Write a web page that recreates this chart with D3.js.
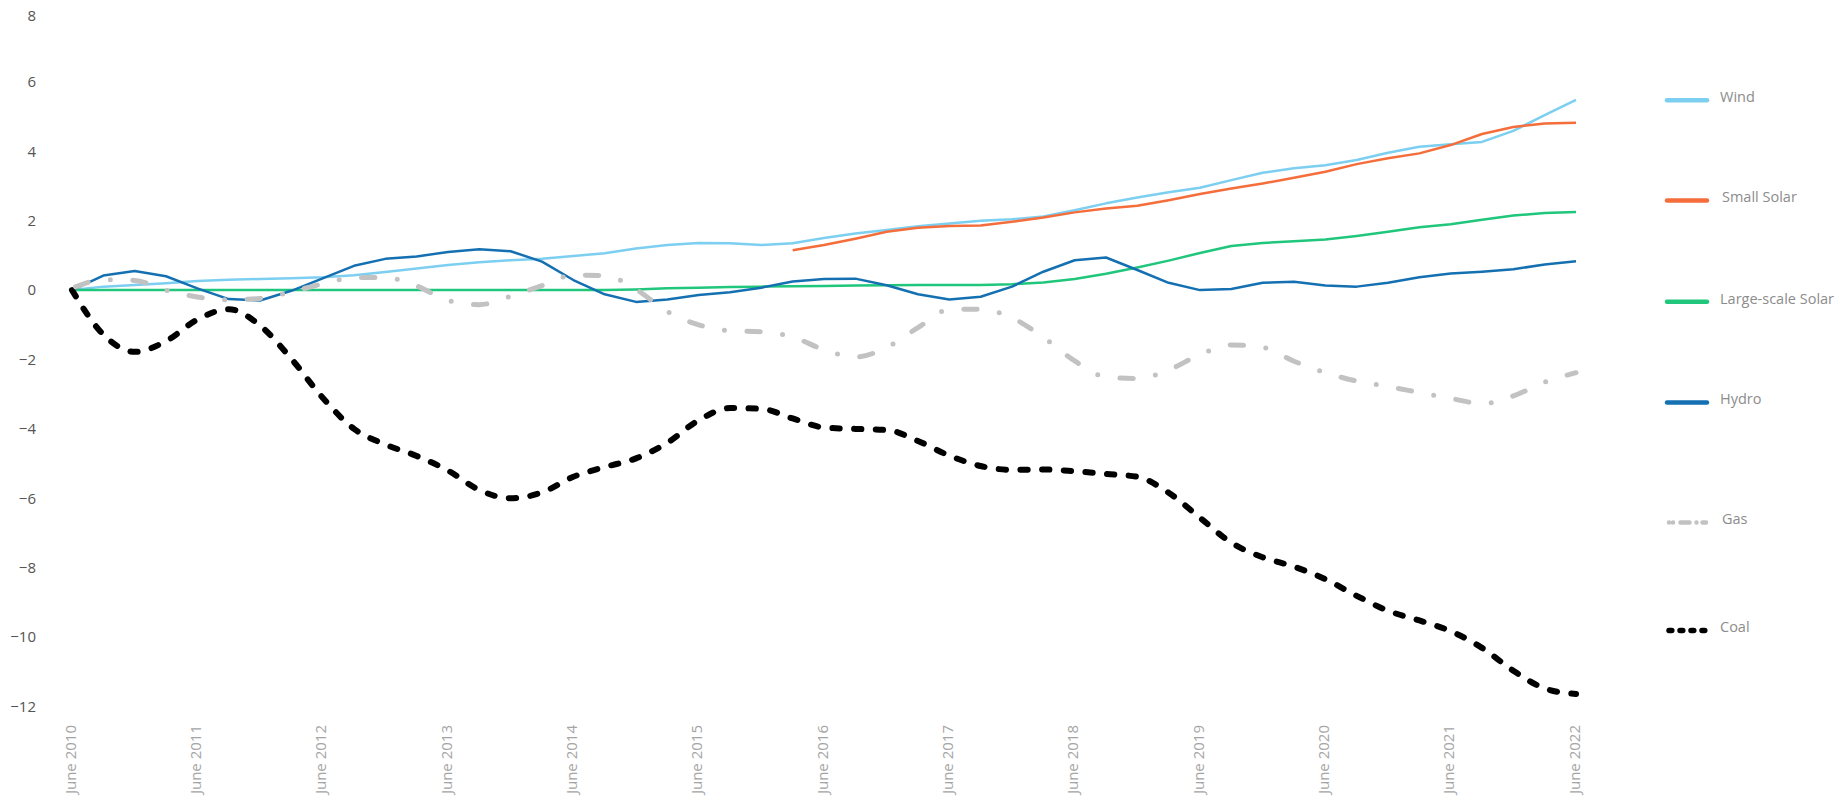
<!DOCTYPE html>
<html>
<head>
<meta charset="utf-8">
<script src="https://cdn.jsdelivr.net/npm/d3@7"></script>
<style>
  html, body { margin: 0; padding: 0; background: #ffffff; }
  svg { display: block; font-family: "Open Sans", "DejaVu Sans", sans-serif; }
</style>
</head>
<body>
<svg id="chart" width="1848" height="801"></svg>
<script>
// ---- DATA (quarterly, June 2010 .. June 2022) ----
const periods = d3.range(49); // quarter index 0..48
const xTickLabels = ["June 2010","June 2011","June 2012","June 2013","June 2014","June 2015",
  "June 2016","June 2017","June 2018","June 2019","June 2020","June 2021","June 2022"];
const yTicks = [-12,-10,-8,-6,-4,-2,0,2,4,6,8];
const seriesNames = ["Wind","Small Solar","Large-scale Solar","Hydro","Gas","Coal"];

const wind = [0.00,0.10,0.15,0.20,0.26,0.30,0.32,0.34,0.37,0.43,0.52,0.62,0.72,0.80,0.86,0.90,
  0.98,1.06,1.20,1.30,1.36,1.35,1.30,1.35,1.50,1.63,1.73,1.84,1.92,2.00,2.04,2.12,
  2.30,2.50,2.67,2.82,2.95,3.17,3.38,3.51,3.60,3.75,3.96,4.13,4.20,4.27,4.59,5.04,5.48];
const smallSolar = [null,null,null,null,null,null,null,null,null,null,null,null,null,null,null,null,
  null,null,null,null,null,null,null,1.15,1.30,1.48,1.68,1.80,1.85,1.86,1.97,2.09,
  2.24,2.35,2.43,2.59,2.77,2.93,3.07,3.24,3.41,3.63,3.80,3.94,4.18,4.50,4.70,4.80,4.82];
const largeSolar = [0,0,0,0,0,0,0,0,0,0,0,0,0,0,0,0,
  0,0,0.02,0.05,0.07,0.09,0.10,0.11,0.12,0.13,0.14,0.15,0.15,0.15,0.17,0.22,
  0.32,0.47,0.65,0.85,1.07,1.27,1.36,1.41,1.46,1.56,1.68,1.81,1.90,2.03,2.15,2.22,2.25];
const hydro = [0.00,0.42,0.55,0.40,0.05,-0.26,-0.30,-0.02,0.34,0.70,0.90,0.97,1.10,1.18,1.12,0.82,
  0.29,-0.12,-0.34,-0.27,-0.14,-0.06,0.07,0.25,0.32,0.33,0.14,-0.12,-0.27,-0.19,0.10,0.53,
  0.86,0.94,0.58,0.21,0.00,0.03,0.21,0.24,0.13,0.10,0.21,0.37,0.48,0.53,0.60,0.74,0.83];
const gas = [0.05,0.30,0.28,0.00,-0.20,-0.28,-0.24,-0.05,0.18,0.36,0.36,0.12,-0.30,-0.42,-0.18,0.13,
  0.43,0.42,0.02,-0.62,-1.00,-1.17,-1.20,-1.35,-1.72,-1.93,-1.65,-1.08,-0.56,-0.55,-0.80,-1.36,
  -2.04,-2.50,-2.55,-2.30,-1.86,-1.58,-1.65,-2.05,-2.38,-2.62,-2.78,-2.95,-3.12,-3.27,-3.05,-2.65,-2.38];
const coal = [0.00,-1.28,-1.78,-1.47,-0.85,-0.55,-1.02,-1.98,-3.10,-4.00,-4.45,-4.78,-5.20,-5.76,-6.00,-5.83,
  -5.38,-5.10,-4.85,-4.40,-3.75,-3.40,-3.42,-3.70,-3.96,-4.00,-4.03,-4.35,-4.77,-5.07,-5.18,-5.17,
  -5.22,-5.30,-5.38,-5.84,-6.56,-7.28,-7.70,-7.97,-8.33,-8.81,-9.24,-9.52,-9.83,-10.31,-10.97,-11.48,-11.64];

// ---- STYLES ----
const styles = {
  "Wind":              { color: "#7ccff0", width: 2.5, dash: null },
  "Small Solar":       { color: "#f46d3b", width: 2.5, dash: null },
  "Large-scale Solar": { color: "#1fc67b", width: 2.5, dash: null },
  "Hydro":             { color: "#1570b2", width: 2.5, dash: null },
  "Gas":               { color: "#c2c2c2", width: 5,   dash: "13.4,22.5,0,22.5", offset: -3.8 },
  "Coal":              { color: "#000000", width: 6,   dash: "7.3,14.4", offset: 0 }
};
const seriesValues = {
  "Wind": wind, "Small Solar": smallSolar, "Large-scale Solar": largeSolar,
  "Hydro": hydro, "Gas": gas, "Coal": coal
};
const drawOrder = ["Wind","Small Solar","Large-scale Solar","Hydro","Coal","Gas"];

// ---- LAYOUT ----
const svg = d3.select("#chart");
const x = d3.scaleLinear().domain([0, 48]).range([72, 1576]);
const y = d3.scaleLinear().domain([-12, 8]).range([706.5, 12.5]);

// Y axis
const yAxis = svg.append("g")
  .attr("transform", "translate(45,0)")
  .call(d3.axisLeft(y).tickValues(yTicks).tickSize(0).tickPadding(9).tickFormat(d3.format("d")));
yAxis.select(".domain").remove();
yAxis.selectAll("text")
  .attr("fill", "#555555")
  .attr("dy", d => d === 8 ? "0.52em" : "0.32em")
  .style("font-size", "15px")
  .style("font-family", "'Open Sans', sans-serif");

// X axis
const xAxis = svg.append("g")
  .attr("transform", `translate(0,${y(-12)})`)
  .call(d3.axisBottom(x)
    .tickValues(xTickLabels.map((d, i) => i * 4))
    .tickSize(0)
    .tickFormat((d, i) => xTickLabels[i]));
xAxis.select(".domain").remove();
xAxis.selectAll("text")
  .attr("fill", "#a5a5a5")
  .style("font-size", "15px")
  .style("font-family", "'Open Sans', sans-serif")
  .attr("text-anchor", "end")
  .attr("transform", "rotate(-90)")
  .attr("x", -18.5)
  .attr("y", 0)
  .attr("dy", "0.22em");

// Lines
const lineSolid = d3.line()
  .defined(d => d.v !== null)
  .x(d => x(d.i))
  .y(d => y(d.v))
  .curve(d3.curveLinear);
const lineSmooth = d3.line()
  .defined(d => d.v !== null)
  .x(d => x(d.i))
  .y(d => y(d.v))
  .curve(d3.curveMonotoneX);

const plot = svg.append("g");
drawOrder.forEach(name => {
  const st = styles[name];
  const data = periods.map(i => ({ i, v: seriesValues[name][i] }));
  const p = plot.append("path")
    .datum(data)
    .attr("fill", "none")
    .attr("stroke", st.color)
    .attr("stroke-width", st.width)
    .attr("stroke-linejoin", "round")
    .attr("stroke-linecap", st.dash ? "round" : "butt")
    .attr("d", st.dash ? lineSmooth : lineSolid);
  if (st.dash) {
    p.attr("stroke-dasharray", st.dash).attr("stroke-dashoffset", st.offset);
  }
});

// Legend
const legendY = [100.2, 200.6, 301.8, 402.4, 522.6, 630.4];
const legendDash = {
  "Gas":  { dash: "0,4,0,7.5,9,7,0,6,10", width: 4.5 },
  "Coal": { dash: "2.8,8.2", width: 5.5 }
};
const legend = svg.append("g");
seriesNames.forEach((name, k) => {
  const st = styles[name];
  const ly = legendY[k];
  const ld = legendDash[name];
  const seg = legend.append("line")
    .attr("x1", ld ? 1669 : 1667)
    .attr("x2", ld ? 1706 : 1707)
    .attr("y1", ly).attr("y2", ly)
    .attr("stroke", st.color)
    .attr("stroke-width", ld ? ld.width : 4.5)
    .attr("stroke-linecap", "round");
  if (ld) seg.attr("stroke-dasharray", ld.dash);
  legend.append("text")
    .attr("x", (name === "Small Solar" || name === "Gas") ? 1722 : 1720)
    .attr("y", ly + 1.7)
    .attr("fill", "#8c8c8c")
    .style("font-size", "14.5px")
    .style("font-family", "'Open Sans', sans-serif")
    .text(name);
});
</script>
</body>
</html>
